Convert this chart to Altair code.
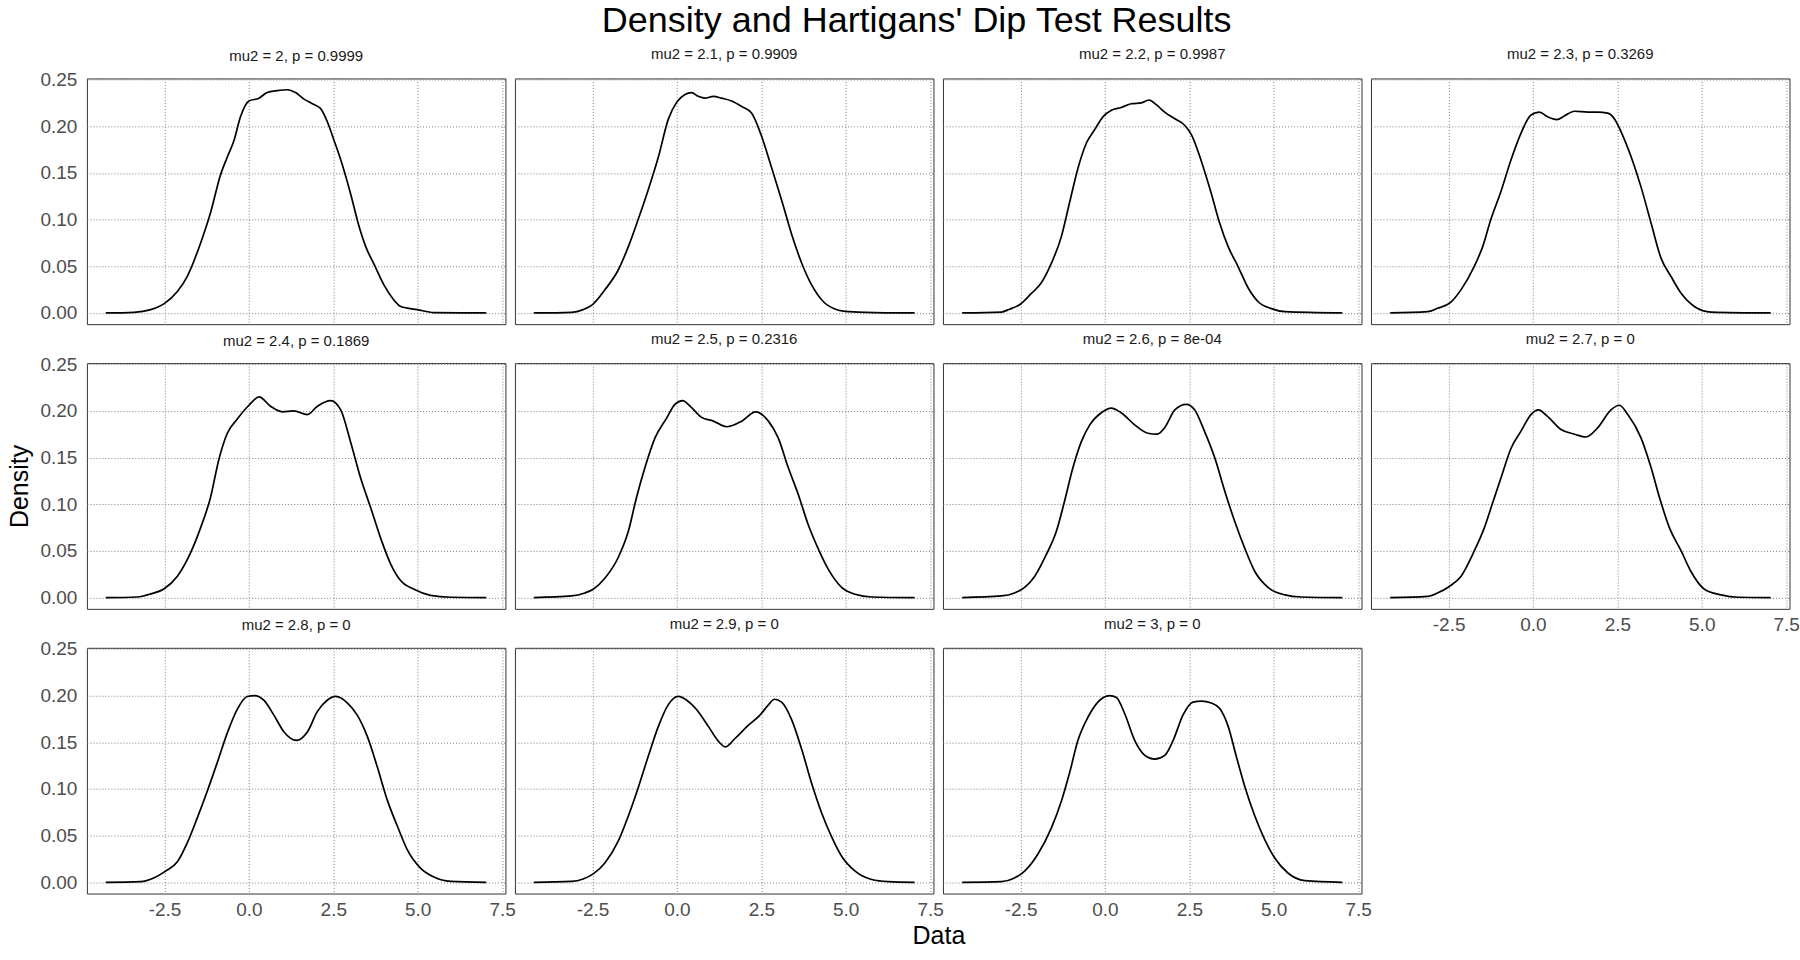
import altair as alt
import pandas as pd

FONT = "Liberation Sans"

mu2_values = ["2", "2.1", "2.2", "2.3", "2.4", "2.5", "2.6", "2.7", "2.8", "2.9", "3"]
p_values = ["0.9999", "0.9909", "0.9987", "0.3269", "0.1869", "0.2316", "8e-04", "0", "0", "0", "0"]

x_p1 = [-4.24, -3.41, -2.91, -2.51, -2.12, -1.83, -1.43, -1.14, -0.84, -0.64, -0.44, -0.25, 0.0, 0.30, 0.54, 0.84, 1.14, 1.38, 1.63, 1.88, 2.12, 2.32, 2.52, 2.72, 3.01, 3.26, 3.46, 3.71, 4.00, 4.25, 4.50, 4.99, 5.48, 7.03]
y_p1 = [0, 0.0007, 0.0036, 0.010, 0.023, 0.039, 0.075, 0.107, 0.148, 0.167, 0.185, 0.210, 0.227, 0.230, 0.236, 0.238, 0.239, 0.236, 0.229, 0.224, 0.219, 0.205, 0.185, 0.164, 0.128, 0.093, 0.071, 0.052, 0.030, 0.016, 0.007, 0.0036, 0.0004, 0]

x_p2 = [-4.24, -3.12, -2.78, -2.50, -2.13, -1.74, -1.44, -1.15, -0.85, -0.55, -0.26, 0.0, 0.24, 0.43, 0.63, 0.83, 1.08, 1.32, 1.62, 1.92, 2.21, 2.51, 2.81, 3.10, 3.40, 3.70, 3.99, 4.34, 4.68, 4.98, 5.57, 7.04]
y_p2 = [0, 0.0007, 0.0036, 0.009, 0.025, 0.046, 0.071, 0.100, 0.132, 0.167, 0.207, 0.226, 0.234, 0.236, 0.232, 0.230, 0.232, 0.230, 0.227, 0.221, 0.214, 0.189, 0.155, 0.121, 0.084, 0.053, 0.030, 0.012, 0.0043, 0.0018, 0.0007, 0]

x_p3 = [-4.23, -3.07, -2.83, -2.50, -2.18, -1.89, -1.59, -1.29, -1.05, -0.80, -0.55, -0.31, -0.06, 0.19, 0.48, 0.78, 1.08, 1.30, 1.52, 1.77, 2.07, 2.36, 2.56, 2.86, 3.15, 3.40, 3.65, 3.94, 4.24, 4.54, 4.93, 5.33, 7.03]
y_p3 = [0, 0.001, 0.004, 0.0096, 0.021, 0.032, 0.053, 0.082, 0.118, 0.155, 0.182, 0.196, 0.210, 0.217, 0.220, 0.224, 0.225, 0.228, 0.223, 0.215, 0.208, 0.201, 0.191, 0.162, 0.128, 0.096, 0.071, 0.050, 0.027, 0.012, 0.0046, 0.0014, 0]

x_p4 = [-4.23, -3.12, -2.83, -2.45, -2.13, -1.74, -1.49, -1.25, -0.95, -0.65, -0.36, -0.06, 0.19, 0.43, 0.71, 0.93, 1.23, 1.62, 1.92, 2.21, 2.41, 2.61, 2.91, 3.20, 3.50, 3.79, 4.09, 4.39, 4.78, 5.28, 7.04]
y_p4 = [0, 0.0014, 0.005, 0.011, 0.025, 0.050, 0.071, 0.100, 0.130, 0.164, 0.192, 0.212, 0.215, 0.210, 0.207, 0.211, 0.216, 0.215, 0.215, 0.214, 0.208, 0.194, 0.167, 0.135, 0.096, 0.059, 0.039, 0.021, 0.007, 0.001, 0]

x_p5 = [-4.24, -3.31, -2.91, -2.51, -2.12, -1.73, -1.43, -1.14, -0.89, -0.64, -0.35, 0.0, 0.30, 0.64, 0.99, 1.33, 1.73, 2.03, 2.42, 2.72, 3.01, 3.31, 3.61, 3.90, 4.20, 4.50, 4.89, 5.38, 5.98, 7.03]
y_p5 = [0, 0.0007, 0.004, 0.0096, 0.023, 0.048, 0.075, 0.107, 0.148, 0.176, 0.191, 0.206, 0.215, 0.205, 0.199, 0.200, 0.196, 0.205, 0.211, 0.201, 0.167, 0.128, 0.096, 0.064, 0.036, 0.018, 0.009, 0.0025, 0.0004, 0]

x_p6 = [-4.24, -3.12, -2.73, -2.48, -2.13, -1.74, -1.44, -1.20, -0.95, -0.65, -0.31, -0.06, 0.17, 0.39, 0.73, 1.08, 1.47, 1.92, 2.33, 2.71, 3.00, 3.30, 3.60, 3.89, 4.19, 4.49, 4.88, 5.28, 5.77, 7.04]
y_p6 = [0, 0.0018, 0.005, 0.009, 0.021, 0.043, 0.071, 0.107, 0.139, 0.171, 0.192, 0.207, 0.211, 0.205, 0.193, 0.189, 0.183, 0.189, 0.199, 0.189, 0.171, 0.139, 0.110, 0.078, 0.052, 0.030, 0.011, 0.0036, 0.0007, 0]

x_p7 = [-4.23, -3.07, -2.68, -2.38, -2.08, -1.74, -1.44, -1.20, -0.95, -0.70, -0.45, -0.11, 0.19, 0.48, 0.88, 1.27, 1.55, 1.77, 2.07, 2.41, 2.66, 2.95, 3.25, 3.55, 3.84, 4.14, 4.44, 4.83, 5.33, 5.82, 7.03]
y_p7 = [0, 0.0018, 0.005, 0.011, 0.023, 0.046, 0.071, 0.103, 0.139, 0.167, 0.185, 0.198, 0.203, 0.198, 0.185, 0.176, 0.175, 0.182, 0.201, 0.207, 0.201, 0.178, 0.150, 0.114, 0.082, 0.053, 0.028, 0.011, 0.003, 0.0007, 0]

x_p8 = [-4.23, -3.12, -2.83, -2.48, -2.13, -1.74, -1.44, -1.20, -0.95, -0.65, -0.36, -0.06, 0.16, 0.43, 0.83, 1.23, 1.57, 1.92, 2.31, 2.56, 2.81, 3.20, 3.50, 3.75, 4.04, 4.39, 4.68, 5.08, 5.57, 6.07, 7.04]
y_p8 = [0, 0.0014, 0.005, 0.012, 0.023, 0.050, 0.075, 0.101, 0.128, 0.160, 0.178, 0.196, 0.201, 0.194, 0.180, 0.175, 0.172, 0.182, 0.201, 0.206, 0.196, 0.171, 0.139, 0.107, 0.075, 0.050, 0.028, 0.009, 0.003, 0.0004, 0]

x_p9 = [-4.24, -3.21, -2.82, -2.47, -2.12, -1.83, -1.53, -1.24, -0.94, -0.64, -0.35, -0.05, 0.17, 0.44, 0.74, 1.04, 1.41, 1.73, 2.03, 2.32, 2.57, 2.92, 3.21, 3.51, 3.80, 4.10, 4.40, 4.69, 5.09, 5.48, 5.98, 7.03]
y_p9 = [0, 0.0007, 0.0046, 0.012, 0.022, 0.042, 0.069, 0.097, 0.128, 0.160, 0.185, 0.199, 0.200, 0.195, 0.179, 0.161, 0.152, 0.161, 0.183, 0.195, 0.199, 0.192, 0.179, 0.156, 0.124, 0.088, 0.060, 0.035, 0.015, 0.0057, 0.0011, 0]

x_p10 = [-4.24, -3.12, -2.78, -2.48, -2.13, -1.74, -1.44, -1.15, -0.85, -0.55, -0.26, 0.04, 0.29, 0.58, 0.93, 1.23, 1.44, 1.72, 2.11, 2.46, 2.71, 2.89, 3.10, 3.40, 3.70, 3.99, 4.29, 4.58, 4.88, 5.28, 5.77, 6.26, 7.04]
y_p10 = [0, 0.001, 0.0036, 0.009, 0.021, 0.044, 0.071, 0.101, 0.135, 0.167, 0.190, 0.199, 0.195, 0.185, 0.167, 0.151, 0.145, 0.154, 0.168, 0.179, 0.190, 0.196, 0.193, 0.174, 0.142, 0.106, 0.074, 0.049, 0.028, 0.012, 0.003, 0.0007, 0]

x_p11 = [-4.23, -3.07, -2.68, -2.38, -1.99, -1.59, -1.29, -1.05, -0.80, -0.50, -0.21, 0.14, 0.34, 0.58, 0.88, 1.18, 1.47, 1.77, 2.02, 2.31, 2.61, 2.86, 3.15, 3.40, 3.65, 3.89, 4.14, 4.44, 4.73, 5.03, 5.42, 5.92, 7.03]
y_p11 = [0, 0.0007, 0.0046, 0.012, 0.030, 0.058, 0.087, 0.117, 0.152, 0.177, 0.193, 0.200, 0.198, 0.181, 0.152, 0.136, 0.132, 0.136, 0.152, 0.179, 0.193, 0.194, 0.192, 0.186, 0.167, 0.135, 0.103, 0.071, 0.046, 0.026, 0.010, 0.0018, 0]

x_ticks = [-2.5, 0.0, 2.5, 5.0, 7.5]
y_ticks = [0.0, 0.05, 0.10, 0.15, 0.20, 0.25]

xs = [x_p1, x_p2, x_p3, x_p4, x_p5, x_p6, x_p7, x_p8, x_p9, x_p10, x_p11]
ys = [y_p1, y_p2, y_p3, y_p4, y_p5, y_p6, y_p7, y_p8, y_p9, y_p10, y_p11]

X_DOMAIN = [-4.80, 7.60]
Y_DOMAIN = [-0.012, 0.2511]
PW, PH = 419, 246
GRID = dict(grid=True, gridColor="#808080", gridDash=[1, 2], gridWidth=1,
            ticks=False, tickSize=0, domain=False)

x_label_expr = "datum.value < 0 ? '-' + format(-datum.value, '.1f') : format(datum.value, '.1f')"


def make_panel(i):
    col = i % 4
    row = i // 4
    show_y = col == 0
    show_x = (row == 2) or (i == 7)
    df = pd.DataFrame({"x": xs[i], "y": ys[i]})

    x_kwargs = dict(values=x_ticks, labels=show_x, labelExpr=x_label_expr,
                    labelFont=FONT, labelFontSize=19, labelColor="#4d4d4d",
                    labelPadding=7, title=None, **GRID)
    if i == 9:
        x_kwargs.update(title="Data", titleFont=FONT, titleFontSize=25,
                        titleFontWeight="normal", titleColor="black",
                        titleX=424, titlePadding=4)
    y_kwargs = dict(values=y_ticks, labels=show_y, format=".2f",
                    labelFont=FONT, labelFontSize=19, labelColor="#4d4d4d",
                    labelPadding=10, title=None, **GRID)
    if i == 4:
        y_kwargs.update(title="Density", titleFont=FONT, titleFontSize=25,
                        titleFontWeight="normal", titleColor="black",
                        titlePadding=7)

    strip_offset = -5.5 if show_y else 4
    return alt.Chart(df).mark_line(
        color="black", strokeWidth=1.7, interpolate="monotone"
    ).encode(
        x=alt.X("x:Q", scale=alt.Scale(domain=X_DOMAIN, nice=False, zero=False),
                axis=alt.Axis(**x_kwargs)),
        y=alt.Y("y:Q", scale=alt.Scale(domain=Y_DOMAIN, nice=False, zero=False),
                axis=alt.Axis(**y_kwargs)),
    ).properties(
        width=PW, height=PH,
        title=alt.TitleParams(
            text=f"mu2 = {mu2_values[i]}, p = {p_values[i]}",
            font=FONT, fontSize=15, fontWeight="normal", color="#1a1a1a",
            anchor="middle", frame="group", offset=strip_offset,
            baseline="alphabetic",
        ),
    )


panels = [make_panel(i) for i in range(11)]

chart = alt.concat(
    *panels, columns=4, spacing={"row": 39, "column": 9.5}, bounds="flush"
).properties(
    title=alt.TitleParams(
        text="Density and Hartigans' Dip Test Results",
        font=FONT, fontSize=36, fontWeight="normal", color="black",
        anchor="middle", frame="bounds", offset=7, dx=13,
    ),
    padding={"left": 7, "top": 2, "right": 0, "bottom": 5},
).configure_view(
    stroke="#333333", strokeWidth=1
)

chart.save("out.html", embed_options={"renderer": "svg", "actions": False})
